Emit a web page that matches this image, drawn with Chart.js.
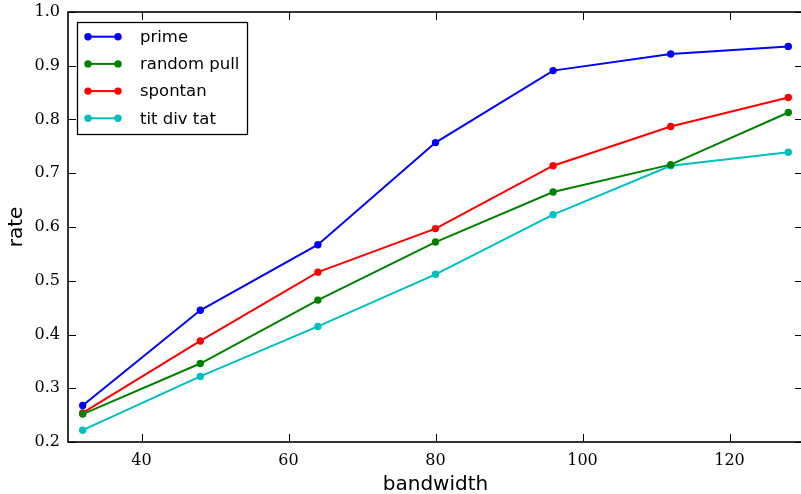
<!DOCTYPE html>
<html>
<head>
<meta charset="UTF-8">
<title>rate vs bandwidth</title>
<script src="https://cdn.jsdelivr.net/npm/chart.js@4"></script>
<style>
  html, body { margin: 0; padding: 0; overflow: hidden; background: #fff; }
  #wrap { position: absolute; left: 0; top: 0; }
</style>
</head>
<body>
<div id="wrap"><canvas id="rateChart" width="811" height="498"></canvas></div>
<script>
// data
const bandwidth = [32, 48, 64, 80, 96, 112, 128];
const prime = [0.268, 0.445, 0.567, 0.757, 0.891, 0.922, 0.936];
const randomPull = [0.252, 0.346, 0.464, 0.572, 0.665, 0.716, 0.813];
const spontan = [0.254, 0.388, 0.516, 0.597, 0.714, 0.787, 0.841];
const titDivTat = [0.222, 0.322, 0.415, 0.512, 0.623, 0.714, 0.739];

const xTicks = [40, 60, 80, 100, 120];
const yTicks = [0.2, 0.3, 0.4, 0.5, 0.6, 0.7, 0.8, 0.9, 1.0];

const seriesNames = ['prime', 'random pull', 'spontan', 'tit div tat'];
const seriesColors = ['#0000ff', '#008000', '#ff0000', '#00bfbf'];
const seriesData = [prime, randomPull, spontan, titDivTat];

const serif = "'DejaVu Serif', serif";
const sans = "'DejaVu Sans', sans-serif";

function makeSet(i) {
    return {
        label: seriesNames[i],
        data: bandwidth.map((x, j) => ({ x: x, y: seriesData[i][j] })),
        borderColor: seriesColors[i],
        backgroundColor: seriesColors[i],
        pointBackgroundColor: seriesColors[i],
        pointBorderColor: seriesColors[i],
        pointBorderWidth: 0,
        pointRadius: 3.7,
        borderWidth: 2,
        tension: 0,
        fill: false
    };
}

// frame + inward ticks on every side, matplotlib style
const framePlugin = {
    id: 'frame',
    afterDraw(chart) {
        const { ctx, chartArea: a, scales } = chart;
        const tl = 8;
        ctx.save();
        ctx.strokeStyle = '#000';
        ctx.lineWidth = 1;
        ctx.beginPath();
        xTicks.forEach(v => {
            const px = Math.round(scales.x.getPixelForValue(v)) + 0.5;
            ctx.moveTo(px, a.bottom); ctx.lineTo(px, a.bottom - tl);
            ctx.moveTo(px, a.top); ctx.lineTo(px, a.top + tl);
        });
        yTicks.forEach(v => {
            const py = Math.round(scales.y.getPixelForValue(v)) + 0.5;
            ctx.moveTo(a.left, py); ctx.lineTo(a.left + tl, py);
            ctx.moveTo(a.right, py); ctx.lineTo(a.right - tl, py);
        });
        ctx.stroke();
        ctx.lineWidth = 1.6;
        ctx.strokeRect(a.left, a.top, a.right - a.left, a.bottom - a.top);

        // legend box
        const bx = 77.5, by = 22.5, bw = 170, bh = 112;
        ctx.fillStyle = '#fff';
        ctx.fillRect(bx, by, bw, bh);
        ctx.lineWidth = 1.3;
        ctx.strokeRect(bx, by, bw, bh);
        ctx.font = '16.5px ' + sans;
        ctx.textBaseline = 'middle';
        ctx.textAlign = 'left';
        chart.data.datasets.forEach((ds, i) => {
            const y = 36.7 + i * 27.2;
            ctx.strokeStyle = ds.borderColor;
            ctx.fillStyle = ds.borderColor;
            ctx.lineWidth = 2;
            ctx.beginPath();
            ctx.moveTo(88, y); ctx.lineTo(118, y);
            ctx.stroke();
            [88, 118].forEach(mx => {
                ctx.beginPath();
                ctx.arc(mx, y, 3.7, 0, Math.PI * 2);
                ctx.fill();
            });
            ctx.fillStyle = '#000';
            ctx.fillText(ds.label, 140, y + 1);
        });
        ctx.restore();
    }
};

const config = {
    type: 'line',
    data: { datasets: seriesData.map((_, i) => makeSet(i)) },
    options: {
        responsive: false,
        animation: false,
        devicePixelRatio: 1,
        layout: { padding: { top: 12, right: 8, bottom: 0, left: 0 } },
        plugins: { legend: { display: false }, tooltip: { enabled: false } },
        scales: {
            x: {
                type: 'linear',
                min: 30,
                max: 130,
                grid: { display: false, drawTicks: false },
                border: { display: false },
                afterBuildTicks: s => { s.ticks = xTicks.map(v => ({ value: v })); },
                afterFit: s => { s.height = 56; s.paddingLeft = 0; s.paddingRight = 0; },
                ticks: {
                    padding: 9,
                    color: '#000',
                    font: { family: serif, size: 16 },
                    maxRotation: 0,
                    callback: v => String(v)
                },
                title: {
                    display: true,
                    text: 'bandwidth',
                    color: '#000',
                    font: { family: sans, size: 20 },
                    padding: { top: 0, bottom: 1 }
                }
            },
            y: {
                type: 'linear',
                min: 0.2,
                max: 1.0,
                grid: { display: false, drawTicks: false },
                border: { display: false },
                afterBuildTicks: s => { s.ticks = yTicks.map(v => ({ value: v })); },
                afterFit: s => { s.width = 68; s.paddingTop = 0; s.paddingBottom = 0; },
                ticks: {
                    padding: 8,
                    color: '#000',
                    font: { family: serif, size: 16 },
                    callback: v => Number(v).toFixed(1)
                },
                title: {
                    display: true,
                    text: 'rate',
                    color: '#000',
                    font: { family: sans, size: 20 },
                    padding: 5
                }
            }
        }
    },
    plugins: [framePlugin]
};

new Chart(document.getElementById('rateChart'), config);
</script>
</body>
</html>
